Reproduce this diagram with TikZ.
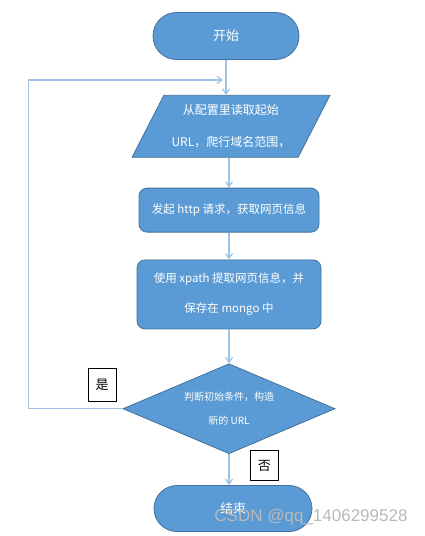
\documentclass[tikz,border=0pt]{standalone}
\usepackage{fontspec}
\setmainfont{Noto Sans CJK SC}
\newfontfamily\markfont{Liberation Sans}
\usetikzlibrary{positioning,shapes.geometric,shapes.misc,arrows.meta}
\definecolor{boxblue}{HTML}{5B9BD5}
\definecolor{edgeblue}{HTML}{41719C}
\definecolor{flowblue}{HTML}{9DC3E6}
\tikzset{
	base/.style={draw=edgeblue, fill=boxblue, text=white, align=center, inner sep=0pt, line width=0.8pt, font=\fontsize{11.5}{30}\selectfont},
	terminal/.style={base, rounded rectangle, minimum width=146pt, minimum height=47pt, font=\fontsize{13}{16}\selectfont},
	io/.style={base, trapezium, trapezium left angle=57, trapezium right angle=123, trapezium stretches=true, minimum width=198pt, minimum height=62pt, font=\fontsize{12}{32}\selectfont},
	process/.style={base, rounded corners=8pt, minimum width=180pt},
	decision/.style={base, diamond, aspect=2.35, minimum width=212pt, minimum height=90pt, font=\fontsize{10}{24}\selectfont},
	flow/.style={draw=flowblue, line width=1.2pt, -{Straight Barb[length=5pt,width=7pt]}},
	tag/.style={draw=black, fill=white, line width=0.8pt, inner sep=0pt, minimum width=28pt, font=\fontsize{13}{16}\selectfont}
}
\begin{document}
\begin{tikzpicture}[x=1pt, y=-1pt]
	\useasboundingbox (0,0) rectangle (425,536);
	\node[terminal] (start) at (226,36) {开始};
	\node[io, below=35pt of start, xshift=5pt] (read) {从配置里读取起始\\URL，爬行域名范围，};
	\node[process, below=30pt of read, xshift=-2pt, minimum height=44pt] (fetch) {发起 http 请求，获取网页信息};
	\node[process, below=27pt of fetch, minimum height=69pt, minimum width=184pt] (parse) {使用 xpath 提取网页信息，并\\保存在 mongo 中};
	\node[decision, below=34pt of parse] (dec) {判断初始条件，构造\\新的 URL};
	\node[terminal, below=31pt of dec, xshift=4pt, minimum width=158pt, minimum height=46pt] (stop) {结束};
	\coordinate[below=20pt of start.south] (merge);
	\node[tag, minimum height=33pt, above left=7pt and 6pt of dec.west] (yes) {是};
	\node[tag, minimum height=30pt, below right=-4pt and 21pt of dec.south] (no) {否};
	\node[font=\markfont\fontsize{17}{17}\selectfont, text=gray!55] (mark) at (311,517) {CSDN @qq\_1406299528};

	\draw[flow] (start.south) -- (start.south |- read.north);
	\draw[flow] (read.south -| fetch.north) -- (fetch.north);
	\draw[flow] (fetch.south) -- (parse.north);
	\draw[flow] (parse.south) -- (dec.north);
	\draw[flow] (dec.south) -- (dec.south |- stop.north);
	\draw[flow] (dec.west) -- ++(-94pt,0) |- ([xshift=-3pt]merge);

\end{tikzpicture}
\end{document}
